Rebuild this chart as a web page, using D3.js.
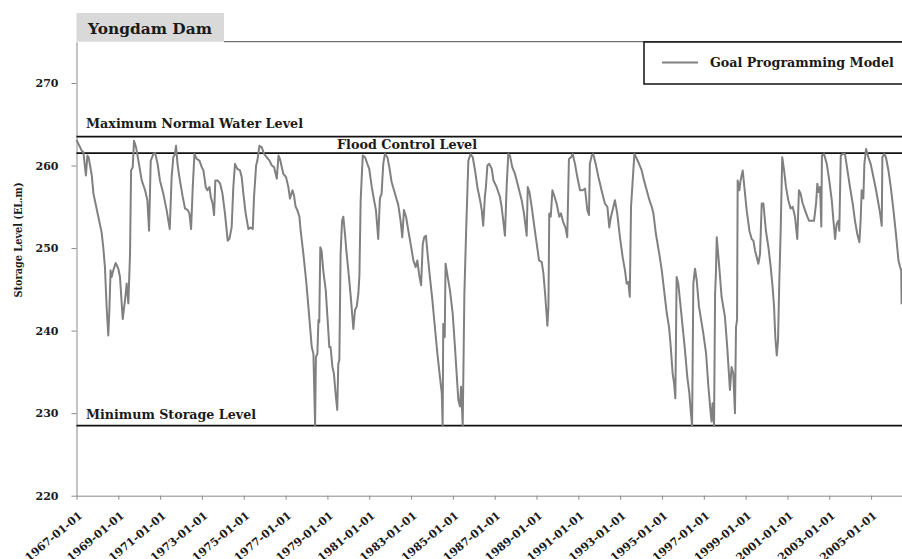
<!DOCTYPE html>
<html>
<head>
<meta charset="utf-8">
<script src="https://cdn.jsdelivr.net/npm/d3@7/dist/d3.min.js"></script>
<style>
  body { margin: 0; background: #ffffff; }
  svg { display: block; }
</style>
</head>
<body>
<script>
// Simulated reservoir storage level, Yongdam Dam (decimal year, EL.m)
const years = [
  1967.00,1967.25,1967.33,1967.45,1967.52,1967.58,1967.73,1967.81,1967.96,1968.20,
  1968.28,1968.36,1968.44,1968.52,1968.57,1968.63,1968.68,1968.76,1968.87,1969.00,
  1969.08,1969.21,1969.32,1969.40,1969.48,1969.56,1969.61,1969.69,1969.75,1969.85,
  1969.96,1970.12,1970.28,1970.39,1970.47,1970.55,1970.68,1970.76,1970.88,1970.99,
  1971.15,1971.31,1971.46,1971.55,1971.63,1971.71,1971.76,1971.83,1971.92,1972.08,
  1972.19,1972.32,1972.40,1972.48,1972.56,1972.64,1972.75,1972.88,1972.99,1973.07,
  1973.18,1973.26,1973.36,1973.42,1973.51,1973.58,1973.64,1973.75,1973.87,1973.98,
  1974.10,1974.23,1974.31,1974.42,1974.50,1974.58,1974.69,1974.82,1974.90,1974.98,
  1975.09,1975.22,1975.33,1975.43,1975.49,1975.59,1975.65,1975.75,1975.86,1975.97,
  1976.10,1976.23,1976.34,1976.45,1976.58,1976.66,1976.73,1976.89,1977.02,1977.13,
  1977.21,1977.33,1977.40,1977.48,1977.56,1977.66,1977.72,1977.85,1977.98,1978.09,
  1978.25,1978.33,1978.41,1978.45,1978.52,1978.57,1978.61,1978.66,1978.72,1978.80,
  1978.92,1979.01,1979.09,1979.15,1979.24,1979.31,1979.39,1979.47,1979.52,1979.57,
  1979.63,1979.70,1979.76,1979.84,1979.92,1980.03,1980.13,1980.24,1980.32,1980.40,
  1980.48,1980.53,1980.59,1980.69,1980.80,1980.91,1981.00,1981.12,1981.23,1981.32,
  1981.43,1981.51,1981.59,1981.67,1981.75,1981.87,1981.96,1982.07,1982.23,1982.39,
  1982.50,1982.58,1982.66,1982.76,1982.87,1982.98,1983.11,1983.22,1983.30,1983.38,
  1983.48,1983.56,1983.63,1983.71,1983.79,1983.90,1984.02,1984.14,1984.26,1984.38,
  1984.47,1984.51,1984.54,1984.61,1984.65,1984.75,1984.86,1984.99,1985.10,1985.18,
  1985.26,1985.34,1985.39,1985.47,1985.55,1985.63,1985.74,1985.85,1985.95,1986.06,
  1986.17,1986.30,1986.38,1986.45,1986.53,1986.58,1986.65,1986.74,1986.86,1986.94,
  1987.09,1987.25,1987.33,1987.41,1987.49,1987.57,1987.65,1987.73,1987.84,1987.97,
  1988.13,1988.29,1988.40,1988.53,1988.58,1988.66,1988.77,1988.90,1989.01,1989.12,
  1989.25,1989.33,1989.41,1989.52,1989.57,1989.61,1989.68,1989.76,1989.84,1989.96,
  1990.09,1990.17,1990.28,1990.38,1990.47,1990.55,1990.65,1990.73,1990.84,1990.95,
  1991.08,1991.21,1991.32,1991.43,1991.51,1991.55,1991.64,1991.71,1991.83,1991.96,
  1992.11,1992.27,1992.39,1992.48,1992.56,1992.64,1992.75,1992.86,1992.99,1993.12,
  1993.23,1993.31,1993.39,1993.46,1993.52,1993.60,1993.68,1993.76,1993.87,1994.03,
  1994.14,1994.27,1994.40,1994.51,1994.59,1994.71,1994.87,1994.99,1995.10,1995.23,
  1995.34,1995.42,1995.51,1995.58,1995.64,1995.70,1995.78,1995.86,1995.99,1996.10,
  1996.21,1996.31,1996.37,1996.44,1996.50,1996.58,1996.66,1996.77,1996.98,1997.11,
  1997.22,1997.33,1997.37,1997.42,1997.49,1997.54,1997.58,1997.62,1997.66,1997.74,
  1997.85,1998.01,1998.12,1998.25,1998.33,1998.41,1998.49,1998.54,1998.59,1998.62,
  1998.70,1998.76,1998.86,1998.94,1999.05,1999.18,1999.29,1999.37,1999.45,1999.53,
  1999.61,1999.69,1999.77,1999.85,1999.97,2000.09,2000.20,2000.29,2000.36,2000.42,
  2000.49,2000.55,2000.61,2000.68,2000.75,2000.84,2000.93,2001.04,2001.15,2001.25,
  2001.36,2001.47,2001.55,2001.63,2001.73,2001.84,2001.95,2002.04,2002.16,2002.27,
  2002.37,2002.43,2002.49,2002.56,2002.62,2002.65,2002.75,2002.88,2003.00,2003.12,
  2003.20,2003.28,2003.35,2003.43,2003.48,2003.55,2003.64,2003.75,2003.87,2003.99,
  2004.12,2004.23,2004.34,2004.44,2004.50,2004.55,2004.63,2004.68,2004.76,2004.87,
  2004.98,2005.11,2005.24,2005.35,2005.43,2005.51,2005.54,2005.63,2005.71,2005.83,
  2005.94,2006.07,2006.19,2006.31,2006.39,2006.44,2006.46
];
const level = [
  263.1,261.8,261.6,258.8,261.2,261.0,258.8,256.6,254.8,251.9,
  250.1,247.7,242.9,239.4,242.3,247.3,246.5,247.3,248.2,247.5,
  246.5,241.4,243.7,245.7,243.3,249.3,259.4,259.8,263.0,262.2,
  260.6,258.2,257.0,255.8,252.1,260.6,261.4,261.5,260.2,258.2,
  256.6,254.6,252.3,258.6,261.0,261.4,262.4,260.2,258.6,256.2,
  254.8,254.6,254.2,252.3,257.4,261.4,260.8,260.6,259.8,259.4,
  257.4,257.0,257.4,256.2,255.4,254.0,258.2,258.2,257.8,256.6,
  254.2,250.9,251.1,252.5,257.4,260.2,259.6,259.4,258.6,256.6,
  254.2,252.3,252.5,252.3,256.2,260.0,260.6,262.4,262.2,261.4,
  261.0,260.6,260.0,259.8,258.4,261.2,260.8,259.0,258.6,257.4,
  256.0,257.0,256.4,255.0,254.6,253.8,252.1,249.3,246.1,242.9,
  238.0,237.2,228.5,236.8,237.2,241.3,241.0,250.1,249.7,247.3,
  244.9,241.3,238.0,238.0,235.6,234.8,232.4,230.4,236.0,236.4,
  249.3,253.3,253.8,251.7,249.3,246.5,243.7,240.2,242.5,242.9,
  244.5,246.7,255.8,261.2,261.0,260.2,259.6,257.4,255.8,254.6,
  251.1,256.0,256.6,260.2,261.4,261.0,259.8,258.0,256.6,255.2,
  253.3,251.3,254.6,253.8,252.1,250.5,248.5,247.7,248.5,246.9,
  245.5,250.5,251.3,251.5,249.3,246.5,243.7,240.4,237.2,234.4,
  232.4,228.5,240.8,239.2,248.1,246.5,244.9,242.1,238.0,234.8,
  231.6,230.8,233.2,228.5,244.5,251.7,260.6,261.4,261.0,259.4,
  257.4,255.8,254.6,252.7,256.2,257.4,260.0,260.2,259.6,258.2,
  257.4,256.2,255.0,253.3,251.5,257.4,261.4,261.2,259.8,259.0,
  257.4,255.8,254.2,251.5,257.4,256.8,255.0,252.5,250.5,248.5,
  248.3,246.9,244.5,240.6,242.9,254.2,253.8,257.0,256.4,255.4,
  253.8,254.2,253.1,252.5,251.3,260.8,261.0,261.4,260.2,258.6,
  257.0,257.0,257.2,254.6,254.0,260.2,261.2,261.4,260.2,258.6,
  257.0,255.4,255.0,252.5,253.8,254.6,255.8,254.2,251.3,248.9,
  247.3,245.7,245.9,244.1,255.0,258.2,261.4,261.0,260.4,259.4,
  258.2,257.0,255.8,255.0,254.2,251.7,249.3,247.3,244.9,242.1,
  240.4,238.0,234.8,233.6,231.8,246.5,245.7,243.7,240.4,237.6,
  234.4,232.4,230.4,228.5,245.7,247.5,246.1,242.9,239.6,237.2,
  233.2,230.0,229.0,231.2,228.5,244.5,246.9,251.3,250.1,247.7,
  244.1,241.7,238.0,232.8,235.6,234.8,230.0,240.4,241.3,258.2,
  257.0,258.2,259.4,257.4,254.6,252.1,251.1,250.9,249.7,248.9,
  248.1,249.3,255.4,255.4,252.1,250.1,247.7,245.3,242.9,239.2,
  237.0,238.8,245.9,252.5,261.0,259.4,257.4,255.8,254.8,255.0,
  253.8,251.1,257.0,256.6,255.4,254.6,253.8,253.3,253.3,253.3,
  255.4,257.8,256.8,257.4,252.6,261.2,261.4,260.2,258.2,255.8,
  253.3,251.1,252.9,253.3,252.1,261.2,261.4,261.4,259.4,257.4,
  255.4,253.3,251.7,250.7,253.3,257.0,256.0,260.2,262.0,261.0,
  260.2,258.6,257.0,255.4,254.2,252.7,261.0,261.4,261.0,259.4,
  257.4,254.6,251.7,248.5,247.7,247.3,243.2
];

// Operating levels drawn as horizontal reference lines
const refNames  = ["Maximum Normal Water Level", "Flood Control Level", "Minimum Storage Level"];
const refLevels = [263.5, 261.5, 228.5];

const tickYears = d3.range(1967, 2006, 2);          // 1967, 1969, ..., 2005
const yTicks    = [220, 230, 240, 250, 260, 270];
const chartTitle = "Yongdam Dam";
const seriesName = "Goal Programming Model";
const yTitle     = "Storage Level (EL.m)";

const W = 902, H = 559;
const margin = { left: 76.5, top: 41.7, bottom: 495.7 };
const lineColor = "#808080";
const axisColor = "#8a8a8a";
const textColor = "#1a1a1a";
const serif = "'DejaVu Serif', serif";

// Scale a text's font size so that its rendered length equals `width`
function fitWidth(sel, width) {
  sel.each(function () {
    const len = this.getComputedTextLength();
    const fs = parseFloat(this.getAttribute("font-size"));
    if (len > 0) this.setAttribute("font-size", (fs * width / len).toFixed(2));
  });
}

const svg = d3.select("body").append("svg")
  .attr("width", W).attr("height", H)
  .attr("viewBox", `0 0 ${W} ${H}`);

// Scales: the plot runs past the right edge of the canvas and is cut off there
const x = d3.scaleLinear().domain([1967, 2007]).range([margin.left, margin.left + 40 * 20.91]);
const y = d3.scaleLinear().domain([220, 275]).range([margin.bottom, margin.top]);

// Title tab
svg.append("rect")
  .attr("x", margin.left).attr("y", 13)
  .attr("width", 224 - margin.left).attr("height", margin.top - 13)
  .attr("fill", "#d9d9d9");
svg.append("text")
  .attr("x", 88).attr("y", 34)
  .attr("font-family", serif).attr("font-weight", "bold").attr("font-size", 15)
  .attr("fill", textColor)
  .text(chartTitle)
  .call(fitWidth, 124);

// Top frame line to the right of the tab
svg.append("line")
  .attr("x1", 224).attr("x2", W + 20)
  .attr("y1", margin.top).attr("y2", margin.top)
  .attr("stroke", "#4d4d4d").attr("stroke-width", 1);

// Y axis
const yAxis = svg.append("g")
  .attr("transform", `translate(${margin.left},0)`)
  .call(d3.axisLeft(y).tickValues(yTicks).tickSize(5).tickPadding(13).tickSizeOuter(0));
yAxis.select(".domain").attr("stroke", axisColor);
yAxis.selectAll(".tick line").attr("stroke", axisColor);
yAxis.selectAll(".tick text")
  .attr("font-family", serif).attr("font-weight", "bold").attr("font-size", 11)
  .attr("fill", textColor);

// X axis with slanted date labels
const xAxis = svg.append("g")
  .attr("transform", `translate(0,${margin.bottom})`)
  .call(d3.axisBottom(x).tickValues(tickYears).tickSize(4).tickSizeOuter(0)
    .tickFormat(d => `${d}-01-01`));
xAxis.select(".domain").attr("stroke", axisColor);
xAxis.selectAll(".tick line").attr("stroke", axisColor);
xAxis.selectAll(".tick text")
  .attr("font-family", serif).attr("font-weight", "bold").attr("font-size", 11)
  .attr("fill", textColor)
  .attr("text-anchor", "end")
  .attr("dy", null)
  .attr("y", 0)
  .attr("transform", "translate(6,21) rotate(-40)");

// Y axis title: condensed bold serif
svg.append("text")
  .attr("transform", `translate(21.5,240) rotate(-90)`)
  .attr("text-anchor", "middle")
  .attr("font-family", serif).attr("font-weight", "bold").attr("font-size", 11.5)
  .attr("textLength", 115).attr("lengthAdjust", "spacingAndGlyphs")
  .attr("fill", textColor)
  .text(yTitle);

// Reference lines
svg.append("g").selectAll("line")
  .data(refLevels)
  .join("line")
  .attr("x1", margin.left).attr("x2", W + 20)
  .attr("y1", d => y(d)).attr("y2", d => y(d))
  .attr("stroke", "#111").attr("stroke-width", 1.8);

// Reference labels
const refLabelPos = [
  { x: 86, dy: -8.5, anchor: "start", w: 217 },
  { x: 407, dy: -4, anchor: "middle", w: 140 },
  { x: 86, dy: -6.5, anchor: "start", w: 170 }
];
svg.append("g").selectAll("text")
  .data(refNames)
  .join("text")
  .attr("x", (d, i) => refLabelPos[i].x)
  .attr("y", (d, i) => y(refLevels[i]) + refLabelPos[i].dy)
  .attr("text-anchor", (d, i) => refLabelPos[i].anchor)
  .attr("font-family", serif).attr("font-weight", "bold").attr("font-size", 12.5)
  .attr("fill", textColor)
  .text(d => d)
  .each(function (d, i) { fitWidth(d3.select(this), refLabelPos[i].w); });

// Storage level series
const series = years.map((t, i) => ({ t, v: level[i] }));
svg.append("path")
  .datum(series)
  .attr("fill", "none")
  .attr("stroke", lineColor)
  .attr("stroke-width", 2)
  .attr("stroke-linejoin", "round")
  .attr("d", d3.line().x(d => x(d.t)).y(d => y(d.v)));

// Legend
const legend = svg.append("g").attr("transform", "translate(644,42)");
legend.append("rect")
  .attr("width", 300).attr("height", 42)
  .attr("fill", "#ffffff").attr("stroke", "#111").attr("stroke-width", 1.5);
legend.append("line")
  .attr("x1", 18).attr("x2", 54).attr("y1", 20.5).attr("y2", 20.5)
  .attr("stroke", lineColor).attr("stroke-width", 2);
legend.append("text")
  .attr("x", 66).attr("y", 25)
  .attr("font-family", serif).attr("font-weight", "bold").attr("font-size", 12.5)
  .attr("fill", textColor)
  .text(seriesName)
  .call(fitWidth, 184);
</script>
</body>
</html>
